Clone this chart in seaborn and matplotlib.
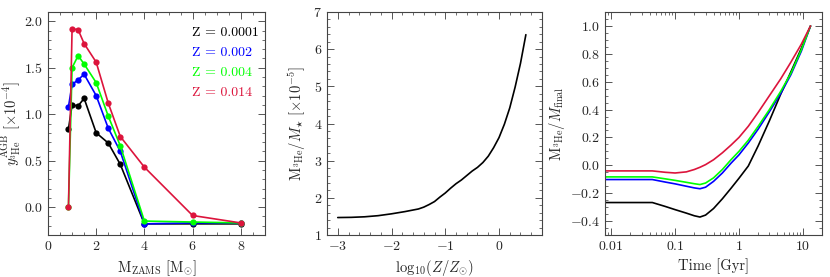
import numpy as np
import pandas as pd
import matplotlib
matplotlib.use("Agg")
import matplotlib.pyplot as plt
import matplotlib.ticker as mticker
import seaborn as sns

# --- panel 1: AGB yields of 3He vs initial mass ---
masses = [0.85, 1.0, 1.25, 1.5, 2.0, 2.5, 3.0, 4.0, 6.0, 8.0]
y_z0001 = [0.84, 1.10, 1.09, 1.17, 0.80, 0.69, 0.46, -0.18, -0.18, -0.18]
y_z002 = [1.08, 1.32, 1.37, 1.43, 1.20, 0.85, 0.60, -0.18, -0.17, -0.17]
y_z004 = [0.00, 1.50, 1.63, 1.54, 1.34, 0.98, 0.66, -0.15, -0.16, -0.17]
y_z014 = [0.00, 1.92, 1.91, 1.76, 1.56, 1.12, 0.76, 0.43, -0.09, -0.17]
z_labels = ["Z = 0.0001", "Z = 0.002", "Z = 0.004", "Z = 0.014"]
z_colors = ["black", "#0000ff", "#00ff00", "#dc143c"]

# --- panel 2: 3He mass fraction vs metallicity ---
logz = [-3.0, -2.75, -2.5, -2.25, -2.0, -1.75, -1.5, -1.4, -1.3, -1.2, -1.1, -1.0,
        -0.9, -0.8, -0.7, -0.6, -0.5, -0.4, -0.3, -0.2, -0.1, 0.0, 0.1, 0.2, 0.3, 0.4, 0.5]
m3he = [1.47, 1.475, 1.49, 1.52, 1.57, 1.63, 1.70, 1.75, 1.82, 1.90, 2.02, 2.13,
        2.26, 2.38, 2.48, 2.60, 2.72, 2.82, 2.95, 3.12, 3.35, 3.62, 3.98, 4.42, 4.98, 5.62, 6.39]

# --- panel 3: normalised 3He mass vs time ---
t_gyr = [0.008, 0.044, 0.07, 0.1, 0.15, 0.2, 0.245, 0.3, 0.4, 0.55, 0.75, 1.0,
         1.4, 2.0, 3.0, 4.5, 6.5, 9.5, 13.2]
f_z0001 = [-0.267, -0.267, -0.295, -0.318, -0.343, -0.362, -0.371, -0.357, -0.31, -0.24,
           -0.165, -0.093, -0.005, 0.14, 0.32, 0.51, 0.67, 0.84, 1.0]
f_z002 = [-0.102, -0.102, -0.12, -0.133, -0.15, -0.162, -0.168, -0.157, -0.115, -0.055,
          0.015, 0.075, 0.16, 0.26, 0.385, 0.515, 0.65, 0.82, 1.0]
f_z004 = [-0.083, -0.083, -0.097, -0.108, -0.122, -0.132, -0.138, -0.127, -0.09, -0.03,
          0.04, 0.10, 0.18, 0.28, 0.40, 0.53, 0.66, 0.83, 1.0]
f_z014 = [-0.04, -0.04, -0.05, -0.055, -0.047, -0.03, -0.014, 0.005, 0.04, 0.09,
          0.145, 0.20, 0.28, 0.38, 0.50, 0.62, 0.74, 0.87, 1.0]

sns.set_theme(style="ticks")
plt.rcParams.update({
    "font.family": "serif",
    "font.serif": ["cmr10", "DejaVu Serif"],
    "mathtext.fontset": "cm",
    "axes.formatter.use_mathtext": True,
    "axes.unicode_minus": True,
    "font.size": 10,
    "axes.labelsize": 10.5,
    "xtick.labelsize": 10,
    "ytick.labelsize": 10,
    "axes.edgecolor": "#444444",
    "axes.linewidth": 0.8,
})

fig = plt.figure(figsize=(8.3, 2.77), dpi=100)
ax1 = fig.add_axes([0.0578, 0.1516, 0.2614, 0.805])
ax2 = fig.add_axes([0.394, 0.1516, 0.2590, 0.805])
ax3 = fig.add_axes([0.729, 0.1516, 0.2614, 0.805])

for ax in (ax1, ax2, ax3):
    ax.tick_params(which="both", direction="in", top=True, right=True, color="#555555")
    ax.tick_params(which="major", length=5, width=0.7)
    ax.tick_params(which="minor", length=2.5, width=0.6)

# panel 1
yields = [y_z0001, y_z002, y_z004, y_z014]
for vals, lab, col in zip(yields, z_labels, z_colors):
    df = pd.DataFrame({"mass": masses, "y": vals})
    sns.lineplot(data=df, x="mass", y="y", ax=ax1, color=col, lw=1.2,
                 marker="o", markersize=4.5, markeredgewidth=0)
ax1.set_xlim(0, 9)
ax1.set_ylim(-0.3, 2.1)
ax1.xaxis.set_major_locator(mticker.MultipleLocator(2))
ax1.xaxis.set_minor_locator(mticker.MultipleLocator(0.5))
ax1.yaxis.set_major_locator(mticker.MultipleLocator(0.5))
ax1.yaxis.set_minor_locator(mticker.MultipleLocator(0.1))
ax1.yaxis.set_major_formatter(mticker.FuncFormatter(lambda v, p: f"${v:.1f}$"))
ax1.set_xlabel(r"$\mathrm{M_{ZAMS}}\ [\mathrm{M}_{\odot}]$")
ax1.set_ylabel(r"$y_{^{3}\mathrm{He}}^{\mathrm{AGB}}\ [\times 10^{-4}]$")
ax1.yaxis.set_label_coords(-0.115, 0.5)
for i, (lab, col) in enumerate(zip(z_labels, z_colors)):
    ax1.text(0.664, 0.905 - i * 0.09, lab, color=col, transform=ax1.transAxes,
             fontsize=10, va="center", ha="left")

# panel 2
df2 = pd.DataFrame({"logz": logz, "m": m3he})
sns.lineplot(data=df2, x="logz", y="m", ax=ax2, color="black", lw=1.2)
ax2.set_xlim(-3.2, 0.8)
ax2.set_ylim(1, 7)
ax2.xaxis.set_major_locator(mticker.MultipleLocator(1))
ax2.xaxis.set_minor_locator(mticker.MultipleLocator(0.2))
ax2.yaxis.set_major_locator(mticker.MultipleLocator(1))
ax2.yaxis.set_minor_locator(mticker.MultipleLocator(0.2))
ax2.set_xlabel(r"$\mathrm{log}_{10}(Z/Z_{\odot})$")
ax2.set_ylabel(r"$\mathrm{M}_{^{3}\mathrm{He}}/M_{\star}\ [\times 10^{-5}]$", labelpad=4)

# panel 3
fracs = [f_z0001, f_z002, f_z004, f_z014]
for vals, col in zip(fracs, z_colors):
    df3 = pd.DataFrame({"t": t_gyr, "f": vals})
    sns.lineplot(data=df3, x="t", y="f", ax=ax3, color=col, lw=1.2)
ax3.set_xscale("log")
ax3.set_xlim(0.008, 20)
ax3.set_ylim(-0.5, 1.1)
ax3.xaxis.set_major_locator(mticker.FixedLocator([0.01, 0.1, 1, 10]))
ax3.xaxis.set_major_formatter(mticker.FuncFormatter(lambda v, p: f"${v:g}$"))
ax3.xaxis.set_minor_locator(mticker.LogLocator(base=10, subs=np.arange(2, 10)))
ax3.xaxis.set_minor_formatter(mticker.NullFormatter())
ax3.yaxis.set_major_locator(mticker.MultipleLocator(0.2))
ax3.yaxis.set_minor_locator(mticker.MultipleLocator(0.05))
ax3.yaxis.set_major_formatter(mticker.FuncFormatter(lambda v, p: f"${v:.1f}$"))
ax3.set_xlabel("Time [Gyr]")
ax3.set_ylabel(r"$\mathrm{M}_{^{3}\mathrm{He}}/M_{\mathrm{final}}$", labelpad=2)

fig.savefig("out.png", dpi=100)
